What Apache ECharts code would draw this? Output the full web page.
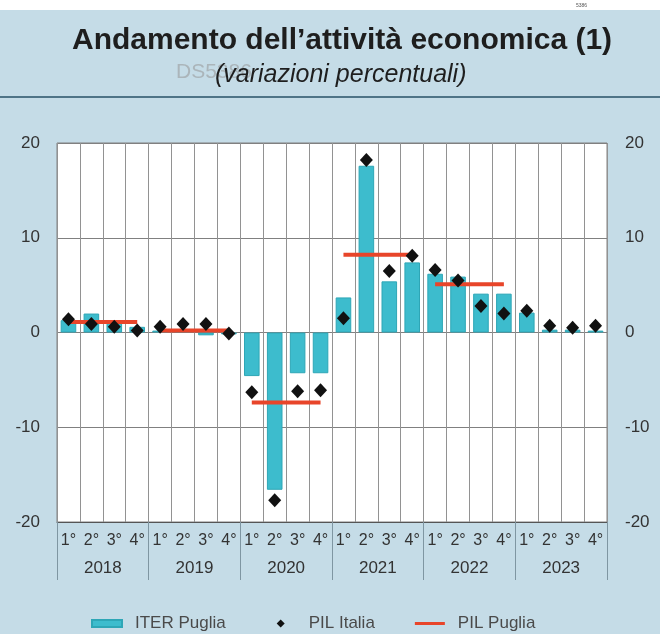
<!DOCTYPE html>
<html>
<head>
<meta charset="utf-8">
<script src="https://cdn.jsdelivr.net/npm/echarts@6/dist/echarts.min.js"></script>
<style>
html,body{margin:0;padding:0;background:#fff;}
#c{width:660px;height:634px;}
</style>
</head>
<body>
<div id="c"></div>
<script>
const quarters = ['1°','2°','3°','4°','1°','2°','3°','4°','1°','2°','3°','4°','1°','2°','3°','4°','1°','2°','3°','4°','1°','2°','3°','4°'];
const years = ['2018','2019','2020','2021','2022','2023'];
const iterPuglia = [1.3,2.0,1.0,0.6, 0.2,0.3,-0.3,-0.2, -4.6,-16.6,-4.3,-4.3, 3.7,17.6,5.4,7.4, 6.2,5.9,4.1,4.1, 2.1,0.3,0.3,0.2];
const pilItalia = [1.4,0.9,0.6,0.2, 0.6,0.9,0.9,-0.1, -6.3,-17.7,-6.2,-6.1, 1.5,18.2,6.5,8.1, 6.6,5.5,2.8,2.0, 2.3,0.7,0.5,0.7];
const pilPugliaYears = ['2018','2019','2020','2021','2022'];
const pilPuglia = [1.1, 0.2, -7.4, 8.2, 5.1];
const yTicks = [-20,-10,0,10,20];

const chart = echarts.init(document.getElementById('c'));
const FONT = '"Liberation Sans", Arial, sans-serif';
const RED = '#e8452a';

const pugliaSeries = pilPugliaYears.map((y, k) => {
  const yi = years.indexOf(y);
  const data = quarters.map((q, i) => (Math.floor(i / 4) === yi ? pilPuglia[k] : '-'));
  return {
    name: 'PIL Puglia', type: 'line', xAxisIndex: 0, yAxisIndex: 0,
    data: data, symbol: 'none', z: 3,
    lineStyle: { color: RED, width: 4 },
    itemStyle: { color: RED }
  };
});

chart.setOption({
  backgroundColor: '#c5dce7',
  animation: false,
  title: [
    { text: "Andamento dell\u2019attività economica (1)", left: 67, top: 21,
      textStyle: { fontFamily: FONT, fontSize: 30, fontWeight: 'bold', color: '#1e1e1e' } },
    { text: '(variazioni percentuali)', left: 210, top: 58,
      textStyle: { fontFamily: FONT, fontSize: 25, fontStyle: 'italic', fontWeight: 'normal', color: '#1e1e1e' } }
  ],
  graphic: [
    { type: 'rect', left: 0, top: 0, shape: { width: 660, height: 10 }, style: { fill: '#ffffff' }, z: -10 },
    { type: 'text', left: 576, top: 3, style: { text: '5386', font: '5px ' + FONT, fill: '#555' } },
    { type: 'text', left: 176, top: 62, z: -1, style: { text: 'DS5386', font: '21px ' + FONT, fill: 'rgba(150,150,150,0.55)' } },
    { type: 'line', shape: { x1: 0, y1: 97, x2: 660, y2: 97 }, style: { stroke: '#4f7487', lineWidth: 2 } }
  ],
  legend: {
    data: [
      { name: 'ITER Puglia', icon: 'path://M0,0H30V7H0Z' },
      { name: 'PIL Italia', icon: 'path://M0,5L0,5M30,5L30,5M15,1L19,5L15,9L11,5Z' },
      { name: 'PIL Puglia', icon: 'path://M0,0H30V3H0Z' }
    ],
    left: 86, top: 610, itemWidth: 30, itemHeight: 10, itemGap: 40,
    textStyle: { fontFamily: FONT, fontSize: 17, color: '#4a4a4a', padding: [0, 0, 0, 8] }
  },
  grid: { left: 57, right: 53, top: 143, bottom: 112, show: true, backgroundColor: '#ffffff', borderColor: '#808080', borderWidth: 1 },
  xAxis: [
    { type: 'category', data: quarters, position: 'bottom',
      axisLine: { show: true, onZero: false, lineStyle: { color: '#555', width: 1 } },
      axisTick: { show: true, inside: false, length: 58, interval: (i) => i % 4 === 0,
        lineStyle: { color: '#7f96a2', width: 1 } },
      axisLabel: { interval: 0, margin: 11, fontFamily: FONT, fontSize: 16, color: '#333' },
      splitLine: { show: true, interval: 0, lineStyle: { color: '#929292', width: 1 } } },
    { type: 'category', data: years, position: 'bottom',
      axisLine: { show: true, onZero: false, lineStyle: { color: 'rgba(0,0,0,0)' } },
      axisTick: { show: true, inside: false, interval: 0, alignWithLabel: false, length: 58,
        lineStyle: { color: '#7f96a2', width: 1 } },
      axisLabel: { margin: 38, fontFamily: FONT, fontSize: 17, color: '#333' },
      splitLine: { show: false } }
  ],
  yAxis: [
    { type: 'value', min: -20, max: 20, interval: 10, position: 'left',
      axisLine: { show: false }, axisTick: { show: false },
      axisLabel: { margin: 17, fontFamily: FONT, fontSize: 17, color: '#333',
        formatter: v => (yTicks.includes(v) ? String(v) : '') },
      splitLine: { show: true, lineStyle: { color: '#808080', width: 1 } } },
    { type: 'value', min: -20, max: 20, interval: 10, position: 'right',
      axisLine: { show: false }, axisTick: { show: false },
      axisLabel: { margin: 18, fontFamily: FONT, fontSize: 17, color: '#333',
        formatter: v => (yTicks.includes(v) ? String(v) : '') },
      splitLine: { show: false } }
  ],
  series: [
    { name: 'ITER Puglia', type: 'bar', xAxisIndex: 0, yAxisIndex: 0, data: iterPuglia,
      barWidth: '68%', z: 2,
      itemStyle: { color: '#3dbccd', borderColor: '#2ea6b6', borderWidth: 1 } },
    { name: 'PIL Italia', type: 'scatter', xAxisIndex: 0, yAxisIndex: 0, data: pilItalia,
      symbol: 'diamond', symbolSize: [13, 14], z: 5,
      itemStyle: { color: '#111111', opacity: 1 } },
    ...pugliaSeries
  ]
});
</script>
</body>
</html>
